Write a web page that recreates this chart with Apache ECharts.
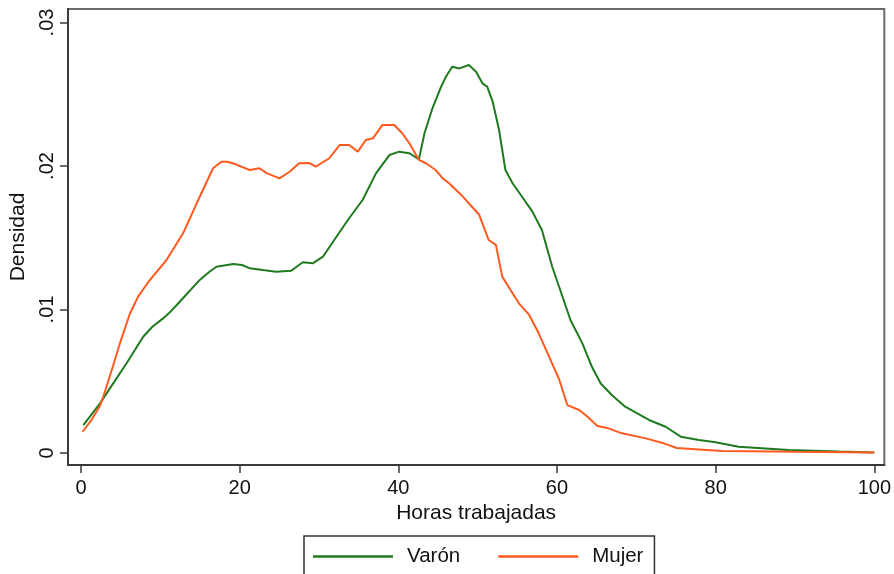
<!DOCTYPE html>
<html>
<head>
<meta charset="utf-8">
<script src="https://cdn.jsdelivr.net/npm/echarts@6/dist/echarts.min.js"></script>
<style>
  html, body { margin: 0; padding: 0; background: #fff; }
  #chart { width: 894px; height: 574px; }
</style>
</head>
<body>
<div id="chart"></div>
<script>
// Kernel density of weekly hours worked, by sex
const varonHoras = [0.3, 2.4, 4.0, 5.75, 7.84, 9.0, 10.35, 11.2, 12.45, 14.97, 16.2, 17.07, 19.2, 20.3, 21.3, 22.9, 24.6, 26.5, 27.96, 29.2, 30.5, 32.2, 33.8, 35.5, 37.2, 38.9, 40.1, 41.4, 42.6, 43.3, 44.3, 45.4, 46.0, 46.8, 47.7, 48.9, 49.8, 50.6, 51.2, 51.9, 52.7, 53.5, 54.4, 55.6, 56.9, 58.1, 59.4, 60.7, 61.7, 63.2, 64.4, 65.5, 66.9, 68.6, 71.6, 73.7, 75.6, 77.9, 80.0, 82.9, 89.2, 95.5, 100];
const varonDens = [0.00195, 0.00346, 0.0048, 0.00625, 0.0081, 0.0088, 0.00938, 0.0098, 0.01054, 0.01206, 0.01263, 0.01298, 0.01317, 0.0131, 0.01287, 0.01275, 0.01263, 0.0127, 0.01329, 0.01322, 0.01368, 0.01507, 0.01636, 0.01763, 0.0195, 0.02077, 0.021, 0.02089, 0.02046, 0.02228, 0.02402, 0.02553, 0.02622, 0.02692, 0.0268, 0.02704, 0.02657, 0.02576, 0.02553, 0.02448, 0.02251, 0.01972, 0.0188, 0.01786, 0.01682, 0.01554, 0.01298, 0.01089, 0.00927, 0.00764, 0.00601, 0.00486, 0.00404, 0.00323, 0.0023, 0.00183, 0.00114, 0.00091, 0.00075, 0.00044, 0.00021, 0.0001, 0.00003];

const mujerHoras = [0.2, 1.2, 2.4, 2.8, 3.43, 4.06, 5.0, 6.16, 7.2, 8.47, 10.78, 12.87, 14.97, 16.65, 17.7, 18.5, 19.6, 21.26, 22.5, 23.4, 25.03, 26.3, 27.5, 28.8, 29.6, 31.3, 32.6, 33.8, 34.9, 35.9, 36.8, 38.0, 39.5, 40.5, 41.4, 42.6, 43.5, 44.7, 45.6, 46.4, 47.9, 50.2, 51.4, 52.3, 53.1, 54.4, 55.2, 56.5, 57.7, 59.0, 60.3, 61.3, 62.8, 63.6, 65.1, 66.5, 68.2, 71.2, 73.2, 75.1, 77.9, 80.8, 90, 100];
const mujerDens = [0.00148, 0.0022, 0.0033, 0.0039, 0.0050, 0.0061, 0.0078, 0.0097, 0.0109, 0.0119, 0.01345, 0.01531, 0.01786, 0.01984, 0.0203, 0.0203, 0.0201, 0.01972, 0.01984, 0.0195, 0.01914, 0.0196, 0.02019, 0.0202, 0.01995, 0.02054, 0.02146, 0.02146, 0.021, 0.02181, 0.02193, 0.02286, 0.02286, 0.02228, 0.02158, 0.02042, 0.02019, 0.01972, 0.01914, 0.0188, 0.018, 0.0166, 0.01484, 0.0145, 0.01229, 0.01113, 0.01043, 0.00962, 0.00834, 0.00671, 0.00509, 0.00334, 0.003, 0.00265, 0.00188, 0.00172, 0.00137, 0.00102, 0.00072, 0.00035, 0.00025, 0.00014, 0.00008, 0.00003];

const xTicks = [0, 20, 40, 60, 80, 100];
const yTicks = [0, 0.01, 0.02, 0.03];
const yTickLabels = ['0', '.01', '.02', '.03'];

const pairs = (xs, ys) => xs.map((x, i) => [x, ys[i]]);
const FONT = 'Liberation Sans, Arial, sans-serif';
const AXIS = '#3a3a3a';
const GREEN = '#1f7a1f';
const ORANGE = '#ff5a1f';

const chart = echarts.init(document.getElementById('chart'), null, { renderer: 'canvas' });
chart.setOption({
  animation: false,
  backgroundColor: '#ffffff',
  grid: {
    left: 68, right: 8, top: 9, bottom: 109,
    show: true, borderColor: '#6a6a6a', borderWidth: 2, backgroundColor: 'transparent'
  },
  xAxis: {
    type: 'value', min: -1.635, max: 101.26,
    name: 'Horas trabajadas', nameLocation: 'middle', nameGap: 37,
    nameTextStyle: { fontFamily: FONT, fontSize: 21, color: '#111' },
    axisLine: { show: true, onZero: false, lineStyle: { color: AXIS, width: 2 } },
    axisTick: { show: true, length: 8, customValues: xTicks, lineStyle: { color: AXIS, width: 1.5 } },
    axisLabel: { customValues: xTicks, margin: 13, fontFamily: FONT, fontSize: 20, color: '#111' },
    splitLine: { show: false }
  },
  yAxis: {
    type: 'value', min: -0.000836, max: 0.03094,
    name: 'Densidad', nameLocation: 'middle', nameGap: 38,
    nameTextStyle: { fontFamily: FONT, fontSize: 21, color: '#111' },
    axisLine: { show: true, onZero: false, lineStyle: { color: AXIS, width: 2 } },
    axisTick: { show: true, length: 8, customValues: yTicks, lineStyle: { color: AXIS, width: 1.5 } },
    axisLabel: {
      customValues: yTicks, rotate: 90, margin: 11, fontFamily: FONT, fontSize: 20, color: '#111',
      formatter: v => yTickLabels[yTicks.findIndex(t => Math.abs(t - v) < 1e-9)]
    },
    splitLine: { show: false }
  },
  legend: {
    left: 304, top: 536,
    padding: [10, 11, 24, 9],
    borderColor: '#333', borderWidth: 1.5,
    icon: 'rect', itemWidth: 80, itemHeight: 2.5, itemGap: 38,
    textStyle: { fontFamily: FONT, fontSize: 20.5, color: '#111', padding: [0, 0, 0, 9] },
    data: ['Varón', 'Mujer']
  },
  series: [
    {
      name: 'Varón', type: 'line', symbol: 'none', smooth: false,
      data: pairs(varonHoras, varonDens),
      lineStyle: { color: GREEN, width: 2 }, itemStyle: { color: GREEN }
    },
    {
      name: 'Mujer', type: 'line', symbol: 'none', smooth: false,
      data: pairs(mujerHoras, mujerDens),
      lineStyle: { color: ORANGE, width: 2 }, itemStyle: { color: ORANGE }
    }
  ]
});
</script>
</body>
</html>
